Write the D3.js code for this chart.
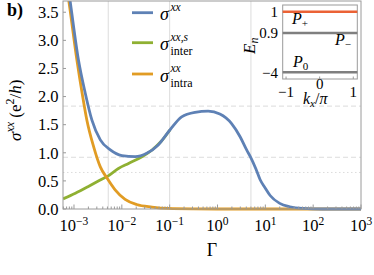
<!DOCTYPE html>
<html>
<head>
<meta charset="utf-8">
<script src="https://cdn.jsdelivr.net/npm/d3@7"></script>
<style>
  body { margin: 0; background: #fff; }
  svg { display: block; font-family: "Liberation Serif", serif; }
  .grid { stroke: #dcdcdc; stroke-width: 1; fill: none; }
  .frame { stroke: #9a9a9a; stroke-width: 1; fill: none; }
  .curve { fill: none; stroke-width: 2.8; stroke-linejoin: round; stroke-linecap: butt; }
</style>
</head>
<body>
<svg id="chart" width="374" height="275"></svg>
<script>
// Main panel: sigma^xx vs Gamma
const gammaTotal = [0.00059, 0.00083, 0.00124, 0.00172, 0.00237, 0.00355, 0.00575, 0.01, 0.019, 0.0331, 0.0575, 0.102, 0.178, 0.339, 0.638, 1.12, 1.97, 2.95, 4.07, 5.0, 6.3, 7.8, 10, 12.6, 20, 32.4, 59, 158, 1000];
const sigmaTotal = [4.6, 3.7, 2.65, 2.06, 1.58, 1.23, 1.05, 0.95, 0.93, 0.99, 1.14, 1.41, 1.64, 1.72, 1.74, 1.69, 1.52, 1.29, 1.05, 0.91, 0.72, 0.52, 0.37, 0.24, 0.10, 0.04, 0.01, 0, 0];

const gammaInter = [0.00059, 0.00107, 0.002, 0.0038, 0.0052, 0.0085, 0.0138, 0.0263, 0.0427, 0.066, 0.102];
const sigmaInter = [0.18, 0.28, 0.40, 0.53, 0.59, 0.72, 0.81, 0.93, 1.05, 1.20, 1.41];

const gammaIntra = [0.00059, 0.00078, 0.00115, 0.00148, 0.00186, 0.00257, 0.00355, 0.0049, 0.00724, 0.0117, 0.0204, 0.0427, 0.093, 0.316, 1, 1000];
const sigmaIntra = [4.4, 3.7, 2.65, 2.06, 1.58, 1.11, 0.75, 0.55, 0.34, 0.17, 0.08, 0.035, 0.01, 0.002, 0, 0];

const yTicks = [0, 0.5, 1, 1.5, 2, 2.5, 3, 3.5];
const xDecades = [-3, -2, -1, 0, 1, 2, 3];
const gridGamma = [0.0052, 0.1, 5];
const gridSigmaDashed = [1.83, 0.92];
const gridSigmaDotted = [0.65];

// Inset: flat bands E_n(k_x)
const kxRange = [-1.1, 1.12];
const bandEnergy = [-4, 0.9, 1];
const bandNames = ["P0", "P-", "P+"];
const insetYTicks = [1, 0.9, -4];
const insetXTicks = [-1, 0, 1];

const colors = { total: "#5E81B5", inter: "#8FB032", intra: "#E19C24", red: "#EB6235", band: "#7f7f7f" };

const svg = d3.select("#chart");

const x = d3.scaleLog().domain([0.000589, 1000]).range([63, 361]);
const y = d3.scaleLinear().domain([0, 3.7]).range([209, 1]);

// grid lines
svg.selectAll(".gx").data(gridGamma).enter().append("line")
  .attr("class", "grid")
  .attr("x1", d => x(d)).attr("x2", d => x(d))
  .attr("y1", y(3.7)).attr("y2", y(0));
svg.selectAll(".gyd").data(gridSigmaDashed).enter().append("line")
  .attr("class", "grid").attr("stroke-dasharray", "5,3")
  .attr("x1", x.range()[0]).attr("x2", x.range()[1])
  .attr("y1", d => y(d)).attr("y2", d => y(d));
svg.selectAll(".gyo").data(gridSigmaDotted).enter().append("line")
  .attr("class", "grid").attr("stroke-dasharray", "1.5,2.5")
  .attr("x1", x.range()[0]).attr("x2", x.range()[1])
  .attr("y1", d => y(d)).attr("y2", d => y(d));

// curves
svg.append("clipPath").attr("id", "clip").append("rect")
  .attr("x", 63).attr("y", 1).attr("width", 300).attr("height", 211);

function drawCurve(gs, vs, color) {
  let pts = gs.map((g, i) => [g, vs[i]]);
  let line = d3.line().curve(d3.curveMonotoneX)
    .x(d => x(d[0]))
    .y(d => y(d[1]));
  svg.append("path").datum(pts)
    .attr("class", "curve")
    .attr("clip-path", "url(#clip)")
    .attr("stroke", color)
    .attr("d", line);
}
drawCurve(gammaInter, sigmaInter, colors.inter);
drawCurve(gammaIntra, sigmaIntra, colors.intra);
drawCurve(gammaTotal, sigmaTotal, colors.total);

// frame
svg.append("rect").attr("class", "frame")
  .attr("x", 63).attr("y", 1).attr("width", 298).attr("height", 208);

// bottom ticks (log minor + decades)
let minor = [];
xDecades.forEach(e => { for (let k = 1; k < 10; k++) minor.push({ v: k * Math.pow(10, e), major: k == 1 }); });
for (let k = 6; k < 10; k++) minor.push({ v: k * 1e-4, major: false });
minor = minor.filter(t => t.v >= x.domain()[0] && t.v <= x.domain()[1]);
svg.selectAll(".xt").data(minor).enter().append("line")
  .attr("stroke", "#9a9a9a")
  .attr("x1", d => x(d.v)).attr("x2", d => x(d.v))
  .attr("y1", 209).attr("y2", d => 209 - (d.major ? 4.5 : 2.5));

svg.selectAll(".yt").data(yTicks).enter().append("line")
  .attr("stroke", "#9a9a9a")
  .attr("x1", 63).attr("x2", 66)
  .attr("y1", d => y(d)).attr("y2", d => y(d));

// tick labels
svg.selectAll(".ytl").data(yTicks).enter().append("text")
  .attr("x", 58.5).attr("y", d => y(d)).attr("dy", "0.35em")
  .attr("text-anchor", "end").attr("font-size", 16.5)
  .text(d => d.toFixed(1));

xDecades.forEach(e => {
  let t = svg.append("text").attr("x", x(Math.pow(10, e))).attr("y", 231)
    .attr("text-anchor", "middle").attr("font-size", 16.5);
  t.append("tspan").text("10");
  t.append("tspan").attr("dy", -6.5).attr("font-size", 11.5).text(String(e).replace("-", "\u2212"));
});

svg.append("text").attr("x", (x.range()[0] + x.range()[1]) / 2).attr("y", 256)
  .attr("text-anchor", "middle").attr("font-size", 18).text("\u0393");

// y label
let yl = svg.append("text").attr("transform", "translate(20.5,141) rotate(-90)").attr("font-size", 17);
yl.append("tspan").attr("font-style", "italic").text("\u03c3");
yl.append("tspan").attr("font-style", "italic").attr("font-size", 12).attr("dy", -7).text("xx");
yl.append("tspan").attr("dy", 7).text(" (e");
yl.append("tspan").attr("font-size", 12).attr("dy", -7).text("2");
yl.append("tspan").attr("dy", 7).text("/");
yl.append("tspan").attr("font-style", "italic").text("h");
yl.append("tspan").text(")");

svg.append("text").attr("x", 7).attr("y", 16).attr("font-size", 18).attr("font-weight", "bold").text("b)");

// legend
const legend = [
  { color: colors.total, sup: "xx", sub: "", y: 12.7 },
  { color: colors.inter, sup: "xx,s", sub: "inter", y: 42.7 },
  { color: colors.intra, sup: "xx", sub: "intra", y: 74 }
];
legend.forEach(l => {
  svg.append("line").attr("x1", 132).attr("x2", 153).attr("y1", l.y).attr("y2", l.y)
    .attr("stroke", l.color).attr("stroke-width", 2.8);
  svg.append("text").attr("x", 160).attr("y", l.y + 7.5).attr("font-size", 18)
    .attr("font-style", "italic").text("\u03c3");
  svg.append("text").attr("x", 170.5).attr("y", l.y - 2).attr("font-size", 11.5)
    .attr("font-style", "italic").text(l.sup);
  if (l.sub)
    svg.append("text").attr("x", 170.5).attr("y", l.y + 12.5).attr("font-size", 12).text(l.sub);
});

// inset
const ix = d3.scaleLinear().domain(kxRange).range([282.7, 357.3]);
const iy = d3.scaleLinear().domain([-4, 0.9, 1]).range([72.3, 33, 11.7]);

svg.append("rect").attr("x", 282.7).attr("y", 5).attr("width", 74.6).attr("height", 74)
  .attr("fill", "#fff").attr("class", "frame");

let bandLine = d3.line().x(d => ix(d[0])).y(d => iy(d[1]));
bandEnergy.forEach((e, i) => {
  svg.append("path").datum(kxRange.map(k => [k, e]))
    .attr("fill", "none")
    .attr("stroke", e == 1 ? colors.red : colors.band)
    .attr("stroke-width", 2.4)
    .attr("d", bandLine);
});

svg.selectAll(".ixt").data(insetXTicks).enter().append("line")
  .attr("stroke", "#9a9a9a")
  .attr("x1", d => ix(d)).attr("x2", d => ix(d))
  .attr("y1", 79).attr("y2", 76.5);

svg.selectAll(".iytl").data(insetYTicks).enter().append("text")
  .attr("x", 278).attr("y", d => iy(d)).attr("dy", "0.35em")
  .attr("text-anchor", "end").attr("font-size", 15)
  .text(d => String(d).replace("-", "\u2212"));

svg.selectAll(".ixtl").data(insetXTicks).enter().append("text")
  .attr("x", d => ix(d)).attr("y", d => d == 0 ? 89 : 97)
  .attr("text-anchor", "middle").attr("font-size", 15)
  .text(d => String(d).replace("-", "\u2212"));

let kl = svg.append("text").attr("x", 303).attr("y", 104).attr("font-size", 16);
kl.append("tspan").attr("font-style", "italic").text("k");
kl.append("tspan").attr("font-style", "italic").attr("font-size", 11).attr("dy", 3).text("x");
kl.append("tspan").attr("dy", -3).text("/");
kl.append("tspan").attr("font-style", "italic").text("\u03c0");

let el = svg.append("text").attr("transform", "translate(255,54) rotate(-90)").attr("font-size", 17);
el.append("tspan").attr("font-style", "italic").text("E");
el.append("tspan").attr("font-style", "italic").attr("font-size", 12).attr("dy", 3).text("n");

// band labels
const bandLabelPos = { "P+": [292, 24], "P-": [335, 45], "P0": [293, 67] };
bandNames.forEach(n => {
  let p = bandLabelPos[n];
  let t = svg.append("text").attr("x", p[0]).attr("y", p[1]).attr("font-size", 16);
  t.append("tspan").attr("font-style", "italic").text("P");
  t.append("tspan").attr("font-size", 11).attr("dy", 3)
    .text(n[1] == "+" ? "+" : n[1] == "-" ? "\u2212" : "0");
});
</script>
</body>
</html>
